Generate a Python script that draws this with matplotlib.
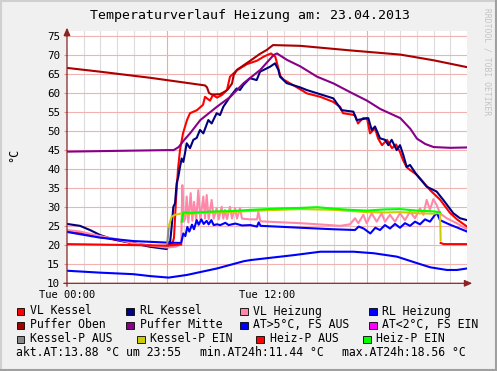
import numpy as np
import matplotlib
matplotlib.use('Agg')
import matplotlib.pyplot as plt
from matplotlib.patches import Rectangle
from matplotlib.lines import Line2D

W, H = 497, 371
plt.rcParams['font.family'] = ['DejaVu Sans Mono', 'DejaVu Sans']

# time axis in hours since Tue 00:00
xtick_hours = [0, 12]
xtick_labels = ['Tue 00:00', 'Tue 12:00']
ytick_values = [10, 15, 20, 25, 30, 35, 40, 45, 50, 55, 60, 65, 70, 75]

# VL Kessel
vk_h = [0, 1.0, 2.0, 3.0, 4.0, 5.0, 5.98, 6.15, 6.3, 6.42, 6.54, 6.66, 6.78, 6.96, 7.2, 7.38, 7.8,
        8.16, 8.28, 8.58, 8.76, 9.0, 9.3, 9.6, 9.78, 10.2, 10.8, 11.4, 11.82, 12.24, 12.5, 12.65,
        12.8, 13.0, 13.56, 14.4, 15.2, 15.96, 16.38, 16.56, 17.28, 17.46, 17.76, 18.0, 18.18, 18.48,
        18.66, 18.9, 19.2, 19.5, 19.74, 19.98, 20.16, 20.38, 20.58, 21.0, 21.36, 21.78, 22.38, 22.98,
        23.4, 24.0]
vk_v = [23.8, 23.1, 22.2, 21.3, 20.5, 19.9, 19.4, 20.9, 20.0, 22.0, 32.0, 40.0, 45.0, 49.4, 52.9,
        54.7, 55.5, 56.9, 59.0, 58.0, 59.5, 58.8, 59.5, 60.8, 64.3, 66.0, 67.6, 68.5, 69.6, 70.4,
        69.5, 67.0, 64.5, 63.5, 62.1, 59.9, 59.0, 57.7, 56.4, 54.7, 54.2, 52.0, 53.4, 53.4, 49.4,
        50.7, 48.1, 46.3, 47.7, 45.5, 46.5, 44.5, 42.4, 40.5, 39.8, 38.5, 36.7, 34.5, 32.0, 28.5,
        26.8, 24.9]

# RL Kessel
rk_h = [0, 0.78, 1.38, 1.98, 2.58, 3.98, 4.98, 5.98, 6.18, 6.28, 6.38, 6.48, 6.58, 6.68, 6.78, 6.88,
        6.98, 7.08, 7.18, 7.38, 7.58, 7.78, 7.98, 8.18, 8.48, 8.68, 8.98, 9.18, 9.38, 9.78, 10.18,
        10.38, 10.58, 10.98, 11.38, 11.58, 12.18, 12.48, 12.68, 12.78, 13.18, 13.98, 14.38, 15.98,
        16.48, 17.18, 17.38, 18.08, 18.28, 18.48, 18.78, 19.08, 19.28, 19.48, 19.78, 19.98, 20.18,
        20.38, 20.58, 20.98, 21.58, 22.18, 22.58, 23.18, 23.58, 24.0]
rk_v = [25.6, 25.1, 24.0, 22.7, 21.8, 20.5, 19.6, 19.0, 20.5, 24.9, 30.1, 31.0, 36.3, 38.0, 40.6,
        42.8, 41.9, 44.2, 46.8, 45.5, 47.7, 48.2, 50.3, 49.4, 52.9, 52.0, 54.7, 54.2, 56.4, 59.0,
        61.2, 60.8, 62.1, 63.9, 63.4, 65.6, 66.9, 67.8, 66.1, 64.3, 62.6, 61.5, 60.8, 58.6, 55.5,
        55.1, 52.9, 53.4, 50.3, 51.2, 48.1, 47.7, 46.3, 47.7, 45.0, 46.3, 43.7, 40.6, 41.1, 38.5,
        35.4, 34.1, 31.9, 28.4, 27.1, 26.6]

# VL Heizung
vh_h = [0, 0.78, 1.98, 2.98, 3.98, 5.0, 5.98, 6.5, 6.85, 6.92, 7.0, 7.1, 7.18, 7.28, 7.42, 7.52,
        7.62, 7.75, 7.88, 8.0, 8.18, 8.28, 8.38, 8.5, 8.68, 8.8, 8.98, 9.1, 9.28, 9.38, 9.48, 9.6,
        9.78, 9.9, 10.08, 10.2, 10.38, 10.5, 11.0, 11.4, 11.48, 11.6, 12.0, 14.0, 15.78, 16.38,
        16.98, 17.28, 17.48, 17.78, 17.98, 18.28, 18.58, 18.88, 19.08, 19.38, 19.68, 19.98, 20.28,
        20.58, 20.88, 21.18, 21.38, 21.58, 21.78, 21.98, 22.18, 22.38, 22.78, 23.38, 24.0]
vh_v = [24.0, 23.6, 22.4, 21.6, 20.5, 19.9, 19.4, 19.6, 20.2, 35.8, 26.2, 27.0, 32.8, 26.0, 33.7,
        26.4, 31.4, 26.6, 34.5, 26.8, 32.8, 27.0, 33.2, 26.8, 31.9, 27.0, 29.7, 26.8, 30.1, 27.0,
        29.3, 26.9, 30.1, 27.0, 29.7, 27.0, 29.7, 27.0, 26.8, 26.8, 28.8, 26.3, 26.2, 25.8, 25.3,
        25.1, 25.5, 27.1, 25.8, 28.0, 25.8, 28.4, 26.2, 28.4, 26.2, 28.0, 26.2, 28.4, 26.6, 28.8,
        27.1, 29.7, 28.0, 31.9, 29.3, 32.1, 30.6, 28.4, 27.1, 25.8, 24.2]

# RL Heizung
rh_h = [0, 0.78, 1.98, 3.98, 5.98, 6.85, 6.98, 7.1, 7.22, 7.34, 7.5, 7.62, 7.78, 7.9, 8.06, 8.2,
        8.38, 8.5, 8.66, 8.8, 9.0, 9.2, 9.5, 9.7, 10.1, 10.5, 11.0, 11.4, 11.5, 11.62, 12.6, 14.0,
        16.0, 17.28, 17.5, 17.8, 18.2, 18.5, 18.78, 19.08, 19.38, 19.68, 19.98, 20.28, 20.58, 20.88,
        21.18, 21.48, 21.78, 22.08, 22.2, 22.38, 22.98, 23.5, 24.0]
rh_v = [23.5, 22.9, 22.0, 21.1, 20.7, 20.6, 23.1, 22.4, 24.8, 23.6, 25.4, 24.2, 26.6, 25.4, 26.8,
        25.6, 26.4, 25.5, 26.6, 25.3, 25.5, 25.3, 25.9, 25.3, 25.7, 25.2, 25.3, 24.9, 26.0, 25.1,
        24.9, 24.6, 24.2, 24.0, 24.9, 24.4, 23.1, 24.6, 24.0, 25.3, 24.4, 25.6, 24.6, 25.8, 25.1,
        26.2, 25.5, 26.8, 26.2, 28.0, 28.4, 26.6, 25.4, 24.5, 23.6]

# Puffer Oben
po_h = [0, 2.0, 5.0, 8.28, 8.4, 8.52, 8.7, 9.18, 9.48, 9.66, 9.9, 10.0, 10.2, 11.0, 11.58, 11.98,
        12.36, 14.0, 17.0, 20.0, 22.0, 23.0, 24.0]
po_v = [66.6, 65.6, 64.0, 62.0, 61.5, 60.0, 59.6, 59.7, 60.4, 61.0, 62.5, 64.7, 66.1, 68.5, 70.3,
        71.3, 72.6, 72.4, 71.2, 70.1, 68.6, 67.7, 66.8]

# Puffer Mitte
pm_h = [0, 3.0, 6.0, 6.4, 6.7, 7.0, 7.4, 8.0, 9.0, 9.8, 10.6, 11.6, 12.4, 12.6, 13.2, 14.0, 15.0,
        16.0, 17.0, 18.0, 18.8, 20.0, 20.6, 21.0, 21.5, 22.0, 23.0, 24.0]
pm_v = [44.6, 44.8, 45.0, 45.0, 45.8, 47.5, 49.5, 52.9, 56.4, 59.0, 62.6, 66.1, 70.0, 70.4, 68.7,
        67.0, 64.3, 62.5, 60.2, 58.0, 55.8, 53.4, 50.6, 48.0, 46.6, 45.8, 45.6, 45.7]

# Aussentemperatur (AT > 5 degC)
at_h = [0, 1.98, 3.98, 4.98, 6.1, 7.2, 9.0, 10.6, 11.0, 12.0, 13.6, 15.2, 17.2, 18.4, 19.8, 21.0,
        21.8, 22.8, 23.4, 24.0]
at_v = [13.3, 12.8, 12.4, 11.9, 11.5, 12.2, 13.9, 15.8, 16.1, 16.6, 17.4, 18.3, 18.3, 17.9, 17.0,
        15.3, 14.2, 13.5, 13.5, 13.9]

# Pumpen-Status
kpa_h = [6.0, 6.1]
kpa_v = [19.8, 24.5]
kpe_h = [6.1, 6.28, 6.48, 6.78, 7.5, 8.0, 9.0, 10.0, 12.0, 14.0, 16.0, 17.0, 18.0, 19.0, 20.0,
         21.0, 22.0, 22.38, 22.42]
kpe_v = [24.9, 27.5, 28.0, 28.3, 28.3, 28.5, 28.6, 28.8, 29.2, 29.5, 29.3, 29.0, 28.7, 28.6, 28.7,
         28.4, 28.3, 28.5, 21.3]
hpa_h = [0, 3.0, 6.0, 6.85, np.nan, 22.42, 22.6, 24.0]
hpa_v = [20.3, 20.1, 19.9, 20.2, np.nan, 20.6, 20.3, 20.3]
hpe_h = [6.88, 6.98, 7.5, 8.0, 9.0, 10.0, 11.0, 12.0, 13.0, 14.0, 15.0, 16.0, 17.0, 18.0, 19.0,
         20.0, 21.0, 22.0, 22.38]
hpe_v = [26.2, 28.6, 28.5, 28.7, 28.9, 29.0, 29.3, 29.5, 29.7, 29.8, 30.0, 29.6, 29.3, 29.1, 29.4,
         29.5, 29.1, 28.9, 28.7]

legend_labels = ['VL Kessel', 'RL Kessel', 'VL Heizung', 'RL Heizung',
                 'Puffer Oben', 'Puffer Mitte', 'AT>5°C, FS AUS', 'AT<2°C, FS EIN',
                 'Kessel-P AUS', 'Kessel-P EIN', 'Heiz-P AUS', 'Heiz-P EIN']
legend_colors = ['#ff0000', '#000080', '#ff88aa', '#0000ff',
                 '#a00000', '#880088', '#0000ff', '#ff00ff',
                 '#888888', '#cccc00', '#ff0000', '#00ff00']
stats_texts = ['akt.AT:13.88 °C um 23:55', 'min.AT24h:11.44 °C', 'max.AT24h:18.56 °C']

fig = plt.figure(figsize=(W / 100, H / 100), dpi=100, facecolor='#f0f0f0')
ax = fig.add_axes([67 / W, 1 - 283.3 / H, 400 / W, 252.3 / H])
ax.set_facecolor('white')
ax.set_xlim(0, 24)
ax.set_ylim(10, 76.3)

for h in range(1, 24):
    ax.axvline(h, color='#f0a8a8' if h % 6 == 0 else '#dcdcdc', lw=0.8, zorder=0)
for v in ytick_values[1:]:
    ax.axhline(v, color='#f3b2b2', lw=0.8, zorder=0)

for s in ax.spines.values():
    s.set_visible(False)
ax.set_yticks(ytick_values)
ax.set_xticks(xtick_hours)
ax.set_xticklabels(xtick_labels)
ax.tick_params(axis='y', length=2, color='#e09090', labelsize=7.8, pad=3)
ax.tick_params(axis='x', length=0, labelsize=7.5, pad=5)

lw = 1.5
series = [(vk_h, vk_v, '#ff0000'), (rk_h, rk_v, '#000080'), (vh_h, vh_v, '#ff88aa'),
          (rh_h, rh_v, '#0000ff'), (po_h, po_v, '#aa0000'), (pm_h, pm_v, '#880088'),
          (at_h, at_v, '#0000ff'), (kpa_h, kpa_v, '#888888'), (kpe_h, kpe_v, '#cccc00'),
          (hpa_h, hpa_v, '#ff0000'), (hpe_h, hpe_v, '#00ff00')]
for i, (xs, ys, c) in enumerate(series):
    ax.plot(xs, ys, color=c, lw=lw, zorder=2 + i * 0.1)

ac = '#8b2323'
ax.annotate('', xy=(0, 1.013), xytext=(0, -0.012), xycoords='axes fraction',
            arrowprops=dict(arrowstyle='-|>,head_length=0.45,head_width=0.2', color=ac, lw=0.9,
                            shrinkA=0, shrinkB=0), annotation_clip=False)
ax.annotate('', xy=(1.013, 0), xytext=(-0.008, 0), xycoords='axes fraction',
            arrowprops=dict(arrowstyle='-|>,head_length=0.45,head_width=0.2', color=ac, lw=0.9,
                            shrinkA=0, shrinkB=0), annotation_clip=False)

def fx(x):
    return x / W

def fy(y):
    return 1 - y / H

fig.text(fx(250), fy(16), 'Temperaturverlauf Heizung am: 23.04.2013', ha='center', va='center',
         fontsize=9.5)
fig.text(fx(13.5), fy(155), '°C', rotation=90, ha='center', va='center', fontsize=8.5)
fig.text(fx(487), fy(62), 'RRDTOOL / TOBI OETIKER', rotation=270, ha='center', va='center',
         fontsize=5.8, color='#c4c4c4')

sq_x = [[16.7, 126, 240, 369], [16.7, 126, 240, 369], [16.7, 137, 256, 363]]
row_y = [311, 325, 339]
for r in range(3):
    for c in range(4):
        k = r * 4 + c
        x0 = sq_x[r][c]
        fig.add_artist(Rectangle((fx(x0), fy(row_y[r] + 4)), 7.5 / W, 7.5 / H,
                                 transform=fig.transFigure, facecolor=legend_colors[k],
                                 edgecolor='black', lw=0.6))
        fig.text(fx(x0 + 13.5), fy(row_y[r]), legend_labels[k], ha='left', va='center',
                 fontsize=8.3)
for x0, t in zip([16.5, 200, 342], stats_texts):
    fig.text(fx(x0), fy(353), t, ha='left', va='center', fontsize=8.3)

# frame
fig.add_artist(Line2D([0, 1], [fy(0.8), fy(0.8)], transform=fig.transFigure, color='#d0d0d0', lw=1.5))
fig.add_artist(Line2D([fx(0.8), fx(0.8)], [0, 1], transform=fig.transFigure, color='#d0d0d0', lw=1.5))
fig.add_artist(Line2D([0, 1], [fy(370), fy(370)], transform=fig.transFigure, color='#a0a0a0', lw=1.5))
fig.add_artist(Line2D([fx(496.2), fx(496.2)], [0, 1], transform=fig.transFigure, color='#a0a0a0', lw=1.5))

fig.savefig('out.png', dpi=100, facecolor=fig.get_facecolor())
